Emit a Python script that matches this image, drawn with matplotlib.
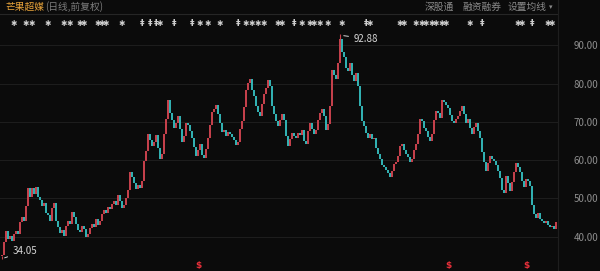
import matplotlib
matplotlib.use("Agg")
import matplotlib.pyplot as plt
from matplotlib.lines import Line2D

plt.rcParams['font.family'] = ['Noto Sans CJK SC', 'DejaVu Sans']

# daily closes (pre-adjusted), one per candle
closes = [
    35.2, 38.5, 41.6, 39.4, 40.2, 38.9, 40.8, 41.5, 40.6, 43.9,
    45.2, 44.1, 47.9, 52.8, 50.4, 52.6, 51.2, 52.9, 50.3, 49.6,
    48.1, 48.9, 46.3, 45.7, 44.2, 47.6, 48.8, 44.1, 42.6, 40.9,
    41.7, 40.1, 42.8, 44.0, 43.3, 46.5, 45.1, 43.2, 41.8, 41.1,
    42.7, 41.9, 39.9, 40.6, 42.2, 43.4, 42.5, 44.6, 43.1, 44.2,
    45.8, 46.9, 46.1, 47.7, 47.2, 48.6, 49.3, 48.4, 50.9, 49.2,
    47.4, 48.2, 50.1, 52.3, 56.8, 55.6, 53.9, 52.5, 53.4, 52.8,
    54.6, 59.8, 62.4, 66.7, 65.2, 63.8, 64.6, 66.5, 63.1, 60.2,
    61.5, 66.9, 70.8, 75.6, 72.3, 70.6, 68.4, 69.7, 71.5, 68.1,
    64.6, 66.3, 69.8, 69.2, 67.5, 65.9, 63.4, 61.2, 62.7, 64.1,
    61.4, 60.6, 62.9, 65.7, 69.1, 72.6, 73.4, 74.3, 72.1, 69.8,
    67.4, 67.9, 66.2, 67.3, 66.8, 66.1, 65.2, 63.9, 64.8, 68.2,
    70.1, 73.9, 78.2, 80.1, 81.2, 78.4, 76.8, 74.2, 72.6, 71.5,
    74.6, 77.3, 78.9, 80.8, 79.3, 74.1, 72.0, 70.2, 68.9, 70.6,
    72.1, 70.4, 66.3, 63.6, 65.4, 67.1, 66.4, 65.8, 67.2, 66.5,
    67.9, 65.1, 64.3, 67.6, 69.7, 68.2, 66.7, 67.8, 70.5, 72.2,
    73.3, 71.6, 67.8, 69.5, 74.1, 83.5, 82.2, 81.3, 85.4, 91.6,
    88.2, 86.9, 84.1, 83.2, 85.3, 82.1, 80.6, 82.8, 79.4, 74.2,
    70.3, 68.8, 67.1, 65.9, 66.8, 65.4, 65.9, 63.2, 61.6, 60.4,
    58.7, 58.1, 57.4, 56.6, 55.7, 57.2, 58.9, 59.6, 61.2, 63.8,
    64.2, 62.7, 61.6, 60.8, 59.4, 60.3, 62.6, 64.1, 66.9, 70.8,
    70.2, 68.3, 67.6, 66.1, 64.9, 66.8, 70.5, 72.9, 72.2, 71.1,
    75.8, 75.2, 74.4, 73.6, 71.9, 70.3, 69.8, 70.7, 71.4, 72.8,
    74.2, 72.1, 69.7, 70.8, 68.4, 66.9, 68.6, 69.8, 67.5, 65.7,
    62.1, 59.4, 57.2, 59.3, 61.1, 60.2, 59.8, 58.7, 57.1, 55.4,
    52.1, 51.3, 55.8, 53.9, 51.9, 54.2, 56.8, 59.3, 58.2, 57.0,
    54.6, 52.9, 55.1, 54.6, 53.3, 48.2, 45.9, 44.8, 46.1, 44.7,
    44.2, 43.6, 44.1, 43.0, 42.4, 42.8, 41.9, 43.9,
]
first_open = 34.9
opens = [first_open] + closes[:-1]

# marked extremes
high_idx, high_val = 169, 92.88
low_idx, low_val = 0, 34.05

# event markers on top row: candle index and glyph
marker_idx = [6, 12, 15, 23, 31, 34, 39, 41, 48, 50, 52, 60, 70, 74, 77, 79, 86,
              95, 99, 103, 109, 118, 122, 125, 128, 131, 138, 140, 146, 150,
              154, 156, 159, 163, 170, 182, 184, 199, 201, 207, 210, 212, 215,
              217, 220, 222, 234, 240, 258, 260, 265, 273, 275]
dagger_idx = [70, 74, 77, 86, 95, 118, 146, 182, 240, 265]
dividend_idx = [98, 223, 262]

yticks = [40, 50, 60, 70, 80, 90]

up_color = '#c4404b'
down_color = '#31b0b1'
bg = '#0b0b0b'

fig = plt.figure(figsize=(6, 2.71), dpi=100, facecolor=bg)
ax = fig.add_axes([0, 0, 558 / 600, 257 / 271], facecolor=bg)

x = list(range(len(closes)))
lo = [min(o, c) for o, c in zip(opens, closes)]
hgt = [max(abs(c - o), 0.25) for o, c in zip(opens, closes)]
cols = [up_color if c >= o else down_color for o, c in zip(opens, closes)]
ax.bar(x, hgt, bottom=lo, width=0.55, color=cols, linewidth=0, zorder=3)

# wicks for the two annotated extremes
ax.vlines([high_idx], closes[high_idx], high_val, color=up_color, lw=0.8, zorder=3)
ax.vlines([low_idx], low_val, first_open, color=up_color, lw=0.8, zorder=3)

ax.set_xlim(-1, 278)
ax.set_ylim(31.04, 98.15)
ax.set_yticks(yticks)
ax.set_yticklabels([f"{v:.2f}" for v in yticks])
ax.yaxis.tick_right()
ax.tick_params(axis='y', length=0, pad=11, labelsize=7, labelcolor='#8e8e8e')
ax.set_xticks([])
ax.grid(axis='y', color='#1d1d1d', lw=0.8)
for s in ax.spines.values():
    s.set_visible(False)

# annotations of extremes
ax.annotate("92.88", xy=(high_idx + 0.5, high_val - 0.3), xytext=(high_idx + 7, 91.7),
            color='#d6d6d6', fontsize=7, va='center',
            arrowprops=dict(arrowstyle='-', color='#d6d6d6', lw=0.7))
ax.annotate("34.05", xy=(low_idx, low_val + 0.2), xytext=(low_idx + 5.5, 36.3),
            color='#d6d6d6', fontsize=7, va='center',
            arrowprops=dict(arrowstyle='-', color='#d6d6d6', lw=0.7))

# event markers row
for i in marker_idx:
    glyph = "‡" if i in dagger_idx else "✱"
    ax.text(i, 95.6, glyph, color='#cfcfcf', fontsize=6.5 if glyph == "‡" else 5.5,
            ha='center', va='center', family=['DejaVu Sans'], fontweight='bold')

# dividend marks
for i in dividend_idx:
    ax.text(i, 32.4, "$", color='#e8303a', fontsize=6.5, ha='center', va='center',
            family=['DejaVu Sans'], fontweight='bold')

# header
fig.text(5 / 600, 1 - 7 / 271, "芒果超媒", color='#e6a23a', fontsize=7, va='center')
fig.text(45 / 600, 1 - 7 / 271, "(日线,前复权)", color='#7c7c7c', fontsize=7, va='center')
fig.text(425 / 600, 1 - 7 / 271, "深股通", color='#8a8a8a', fontsize=7, va='center')
fig.text(462 / 600, 1 - 7 / 271, "融资融券", color='#8a8a8a', fontsize=7, va='center')
fig.text(508 / 600, 1 - 7 / 271, "设置均线", color='#8a8a8a', fontsize=7, va='center')
fig.text(549 / 600, 1 - 7 / 271, "▾", color='#8a8a8a', fontsize=5, va='center',
         family=['DejaVu Sans'])
fig.add_artist(Line2D([0, 558 / 600], [1 - 14 / 271] * 2, transform=fig.transFigure,
                      color='#262626', lw=0.8))
fig.add_artist(Line2D([558 / 600] * 2, [0, 1], transform=fig.transFigure,
                      color='#1e1e1e', lw=0.8))

fig.savefig("out.png", dpi=100, facecolor=bg)
